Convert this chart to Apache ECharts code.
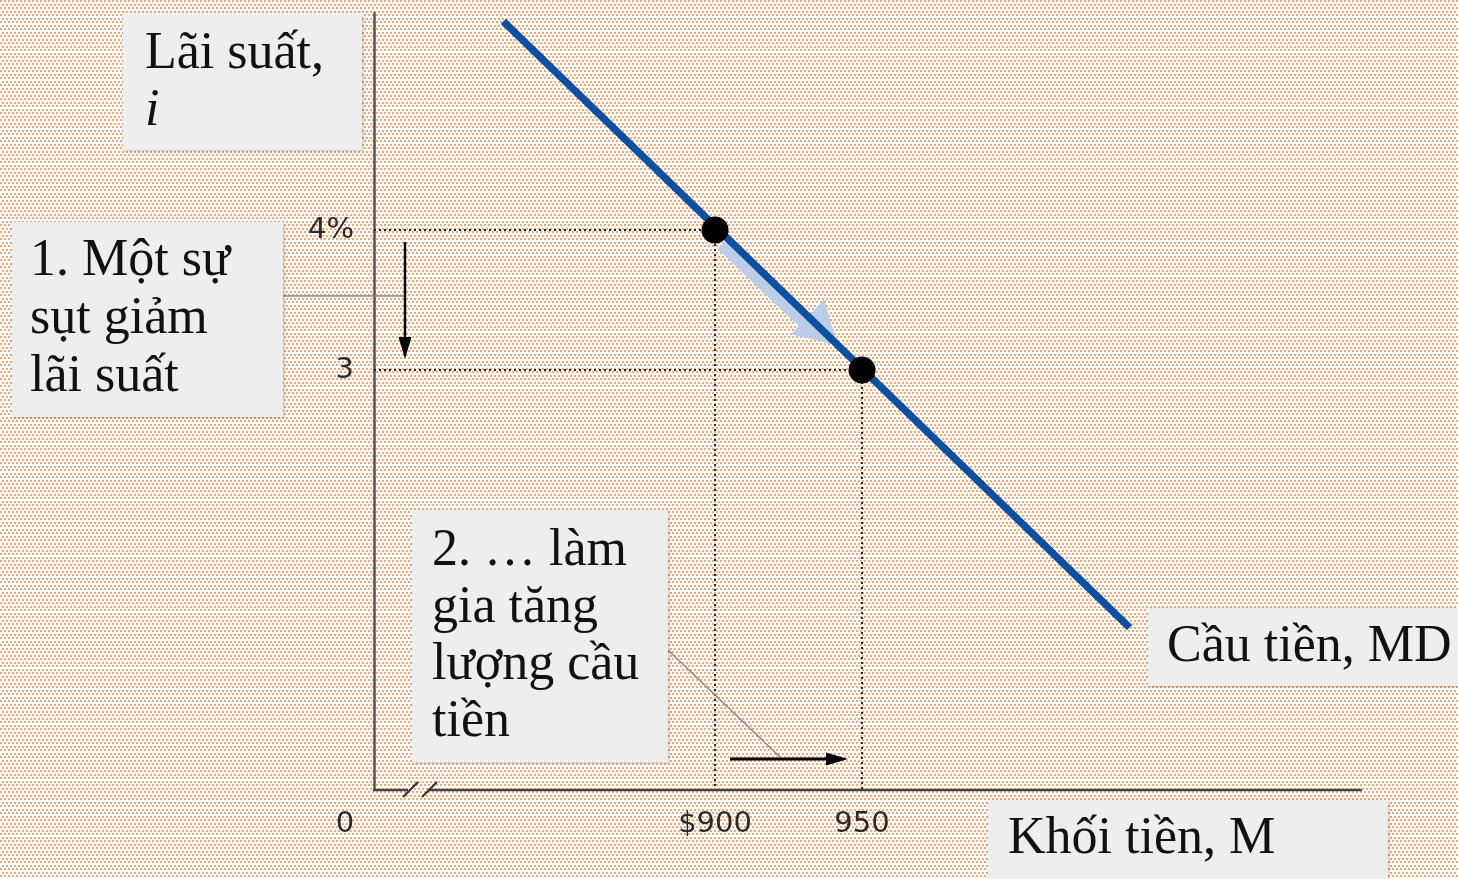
<!DOCTYPE html>
<html>
<head>
<meta charset="utf-8">
<script src="https://cdn.jsdelivr.net/npm/echarts@6/dist/echarts.min.js"></script>
<style>
  html, body { margin: 0; padding: 0; background: #fff; }
  #chart { width: 1458px; height: 879px; }
</style>
</head>
<body>
<div id="chart"></div>
<script>
// Money demand: quantity of money (M) against interest rate (i)
const quantityTicks = [900, 950];
const quantityTickLabels = ['$900', '950'];
const rateTicks = [3, 4];
const rateTickLabels = ['3', '4%'];
const quantityRange = [784, 1120];
const rateRange = [0, 5.55];
// MD curve ends and the two marked points on it
const demandCurve = [[828, 5.49], [1041, 1.16]];
const marked = [[900, 4], [950, 3]];

const SERIF = '"Liberation Serif", "Times New Roman", serif';
const SANS = '"DejaVu Sans", Arial, sans-serif';
const TICK_SIZE = 29;

function dotTile() {
  const c = document.createElement('canvas');
  c.width = 4; c.height = 7;
  const g = c.getContext('2d');
  g.fillStyle = '#ffffff';
  g.fillRect(0, 0, 4, 7);
  g.fillStyle = '#f4a674';
  g.fillRect(0, 0, 2, 2);
  g.fillRect(2, 4, 2, 2);
  return c;
}

const chart = echarts.init(document.getElementById('chart'), null, { renderer: 'canvas' });

const guideSeries = marked.map(p => ({
  type: 'line',
  data: [[quantityRange[0], p[1]], [p[0], p[1]], [p[0], 0]],
  symbol: 'none',
  silent: true,
  z: 1,
  lineStyle: { color: '#222', width: 2, type: [2, 3] }
}));

chart.setOption({
  animation: false,
  grid: { left: 374, top: 13, width: (quantityRange[1] - quantityRange[0]) * 2.94, height: 777, outerBoundsMode: 'none' },
  xAxis: {
    type: 'value', min: quantityRange[0], max: quantityRange[1],
    axisLine: { show: false }, axisTick: { show: false }, splitLine: { show: false },
    axisLabel: {
      customValues: quantityTicks, margin: 20,
      fontFamily: SANS, fontSize: TICK_SIZE, color: '#2a2a2a',
      formatter: v => quantityTickLabels[quantityTicks.indexOf(v)]
    }
  },
  yAxis: {
    type: 'value', min: rateRange[0], max: rateRange[1],
    axisLine: { show: true, lineStyle: { color: '#555', width: 2.5 } },
    axisTick: { show: false }, splitLine: { show: false },
    axisLabel: {
      customValues: rateTicks, margin: 20,
      fontFamily: SANS, fontSize: TICK_SIZE, color: '#2a2a2a',
      formatter: v => rateTickLabels[rateTicks.indexOf(v)]
    }
  },
  series: [
    ...guideSeries,
    {
      type: 'line', data: demandCurve, symbol: 'none', silent: true, z: 3,
      lineStyle: { color: '#0b50a2', width: 7.5, cap: 'butt' }
    },
    {
      type: 'scatter', data: marked, symbolSize: 27, silent: true, z: 4,
      itemStyle: { color: '#000', opacity: 1 }
    }
  ]
});

function px(p) { return chart.convertToPixel({ gridIndex: 0 }, p); }

function textBox(x, y, w, h, lines, tx, firstBaseline, lh) {
  return [
    {
      type: 'rect', z: 20, shape: { x, y, width: w, height: h },
      style: { fill: '#eeeeee', shadowBlur: 3, shadowColor: 'rgba(0,0,0,0.28)', shadowOffsetX: 1, shadowOffsetY: 1 }
    },
    {
      type: 'text', z: 21, x: tx, y: firstBaseline - 16 - lh / 2,
      style: { text: lines.join('\n'), fontFamily: SERIF, fontSize: 52, fill: '#111', lineHeight: lh, verticalAlign: 'top', align: 'left' }
    }
  ];
}

function arrowHead(tip, dir, len, half) {
  const [ux, uy] = dir;
  const bx = tip[0] - ux * len, by = tip[1] - uy * len;
  return [[tip[0], tip[1]], [bx - uy * half, by + ux * half], [bx + uy * half, by - ux * half]];
}

function drawAnnotations() {
  const origin = px([quantityRange[0], 0]);
  const xEnd = px([quantityRange[1], 0]);
  const a = px(marked[0]);
  const b = px(marked[1]);
  const oy = origin[1];

  // movement arrow along the curve
  const dx = b[0] - a[0], dy = b[1] - a[1];
  const d = Math.hypot(dx, dy);
  const u = [dx / d, dy / d];
  const n = [-u[1], u[0]];
  const at = (s, t) => [a[0] + u[0] * s + n[0] * t, a[1] + u[1] * s + n[1] * t];
  const headBase = d - 76, tipS = d - 35;
  const blueArrow = [
    at(15, -5), at(headBase, -5), at(headBase, -25), at(tipS, -1),
    at(headBase, 23), at(headBase, 12), at(15, 12)
  ];

  const els = [
    { type: 'rect', z: -100, shape: { x: 0, y: 0, width: 1458, height: 879 },
      style: { fill: { image: dotTile(), repeat: 'repeat' } }, silent: true },
    { type: 'polygon', z: 1, shape: { points: blueArrow },
      style: { fill: 'rgba(185,203,232,0.97)' } },
    // horizontal axis with a break near the origin
    { type: 'line', z: 5, shape: { x1: origin[0] - 1, y1: oy, x2: origin[0] + 34, y2: oy },
      style: { stroke: '#444', lineWidth: 2.5 } },
    { type: 'line', z: 5, shape: { x1: origin[0] + 54, y1: oy, x2: xEnd[0], y2: oy },
      style: { stroke: '#444', lineWidth: 2.5 } },
    { type: 'line', z: 5, shape: { x1: origin[0] + 29, y1: oy + 7, x2: origin[0] + 44, y2: oy - 8 },
      style: { stroke: '#333', lineWidth: 2.2 } },
    { type: 'line', z: 5, shape: { x1: origin[0] + 48, y1: oy + 7, x2: origin[0] + 63, y2: oy - 8 },
      style: { stroke: '#333', lineWidth: 2.2 } },
    { type: 'text', z: 5, x: origin[0] - 29, y: oy + 34,
      style: { text: '0', fontFamily: SANS, fontSize: TICK_SIZE, fill: '#2a2a2a', align: 'center', verticalAlign: 'middle' } },
    // connector lines from the notes
    { type: 'line', z: 6, shape: { x1: 283, y1: 296, x2: 405, y2: 296 },
      style: { stroke: '#8a8a8a', lineWidth: 1.6 } },
    { type: 'line', z: 6, shape: { x1: 668, y1: 650, x2: 780, y2: 757 },
      style: { stroke: '#8a8a8a', lineWidth: 1.6 } },
    // fall in the rate
    { type: 'line', z: 7, shape: { x1: 405, y1: 242, x2: 405, y2: 345 },
      style: { stroke: '#000', lineWidth: 2.5 } },
    { type: 'polygon', z: 7, shape: { points: arrowHead([405, 359], [0, 1], 22, 6.5) },
      style: { fill: '#000' } },
    // rise in quantity demanded
    { type: 'line', z: 7, shape: { x1: 730, y1: 759, x2: 834, y2: 759 },
      style: { stroke: '#000', lineWidth: 2.8 } },
    { type: 'polygon', z: 7, shape: { points: arrowHead([848, 759], [1, 0], 22, 6.5) },
      style: { fill: '#000' } },
    ...textBox(123, 14, 239, 136, ['Lãi suất,'], 145, 70, 57),
    { type: 'text', z: 21, x: 145, y: 127 - 16 - 28.5,
      style: { text: 'i', fontFamily: SERIF, fontSize: 52, fontStyle: 'italic', fill: '#111', lineHeight: 57, verticalAlign: 'top' } },
    ...textBox(12, 222, 271, 195, ['1. Một sự', 'sụt giảm', 'lãi suất'], 30, 277, 58),
    ...textBox(412, 510, 256, 252, ['2. … làm', 'gia tăng', 'lượng cầu', 'tiền'], 432, 567, 57),
    ...textBox(1148, 608, 310, 78, ['Cầu tiền, MD'], 1167, 663, 57),
    ...textBox(988, 800, 400, 79, ['Khối tiền, M'], 1008, 855, 57)
  ];
  chart.setOption({ graphic: els });
}

drawAnnotations();
</script>
</body>
</html>
